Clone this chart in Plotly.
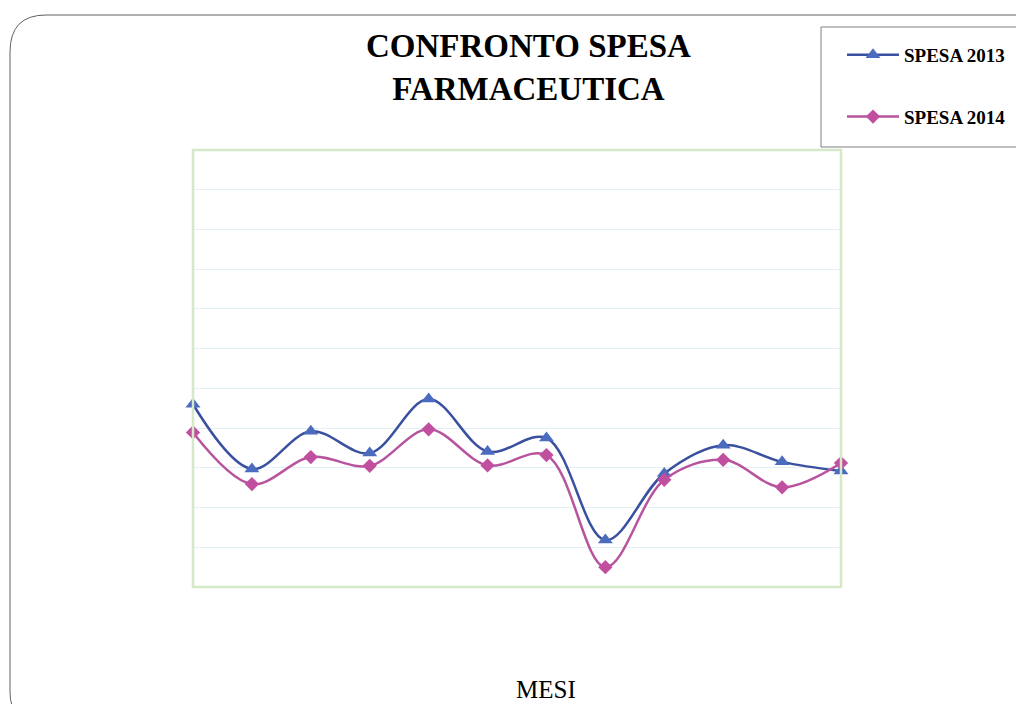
import plotly.graph_objects as go

months = ["GEN", "FEB", "MAR", "APR", "MAG", "GIU", "LUG", "AGO", "SET", "OTT", "NOV", "DIC"]
spesa_2013 = [4.60, 2.97, 3.92, 3.37, 4.73, 3.41, 3.75, 1.18, 2.86, 3.57, 3.15, 2.92]
spesa_2014 = [3.89, 2.59, 3.27, 3.05, 3.97, 3.06, 3.32, 0.50, 2.70, 3.20, 2.51, 3.12]

OFF = 8  # page body margin
W, H = 1024 - OFF, 704 - OFF
L, R, T, B = 193, 841, 150, 587  # plot area in window pixels


def px(x):
    return (x - L) / (R - L)


def py(y):
    return (B - y) / (B - T)


fig = go.Figure()
fig.add_trace(go.Scatter(
    x=list(range(len(months))), y=spesa_2013, name="SPESA 2013",
    mode="lines+markers", line=dict(color="#3A50A0", width=2.5, shape="spline", smoothing=1),
    marker=dict(symbol="triangle-up", size=13, color="#4A6BBE"),
    legendgroup="a", cliponaxis=False))
fig.add_trace(go.Scatter(
    x=list(range(len(months))), y=spesa_2014, name="SPESA 2014",
    mode="lines+markers", line=dict(color="#B8549E", width=2.5, shape="spline", smoothing=1),
    marker=dict(symbol="diamond", size=11, color="#C0509F"),
    legendgroup="b", cliponaxis=False))

path = (f"M {px(1040)} {py(15)} L {px(46)} {py(15)} Q {px(10)} {py(15)} {px(10)} {py(52)} "
        f"L {px(10)} {py(692)} Q {px(10)} {py(708)} {px(18)} {py(714)}")

fig.update_layout(
    width=W, height=H,
    margin=dict(l=L - OFF, r=W - (R - OFF), t=T - OFF, b=H - (B - OFF)),
    paper_bgcolor="white", plot_bgcolor="white",
    showlegend=True,
    legend=dict(x=px(842), y=py(36), xanchor="left", yanchor="top",
                font=dict(family="Liberation Serif", size=19, color="black", weight="bold"),
                tracegroupgap=34, traceorder="grouped", bgcolor="rgba(0,0,0,0)",
                itemwidth=52),
    xaxis=dict(range=[0, 11], showticklabels=False, showgrid=False, zeroline=False,
               showline=False, ticks=""),
    yaxis=dict(range=[0, 11], dtick=1, showticklabels=False, showgrid=True,
               gridcolor="#E3F1F6", gridwidth=1, zeroline=False, showline=False, ticks=""),
    shapes=[
        dict(type="rect", xref="paper", yref="paper", x0=0, x1=1, y0=0, y1=1,
             line=dict(color="#D5E8C8", width=2.5)),
        dict(type="rect", xref="paper", yref="paper", x0=px(821), x1=px(1030), y0=py(27), y1=py(147),
             line=dict(color="#808080", width=1)),
        dict(type="path", xref="paper", yref="paper", path=path,
             line=dict(color="#606060", width=1)),
    ],
    annotations=[
        dict(text="<b>CONFRONTO SPESA<br>FARMACEUTICA</b>", xref="paper", yref="paper",
             x=px(528), y=py(67), xanchor="center", yanchor="middle", showarrow=False,
             font=dict(family="Liberation Serif", size=33, color="black")),
        dict(text="MESI", xref="paper", yref="paper", x=px(546), y=py(689),
             xanchor="center", yanchor="middle", showarrow=False,
             font=dict(family="Liberation Serif", size=25, color="black")),
    ],
)

fig.write_html("out.html")
